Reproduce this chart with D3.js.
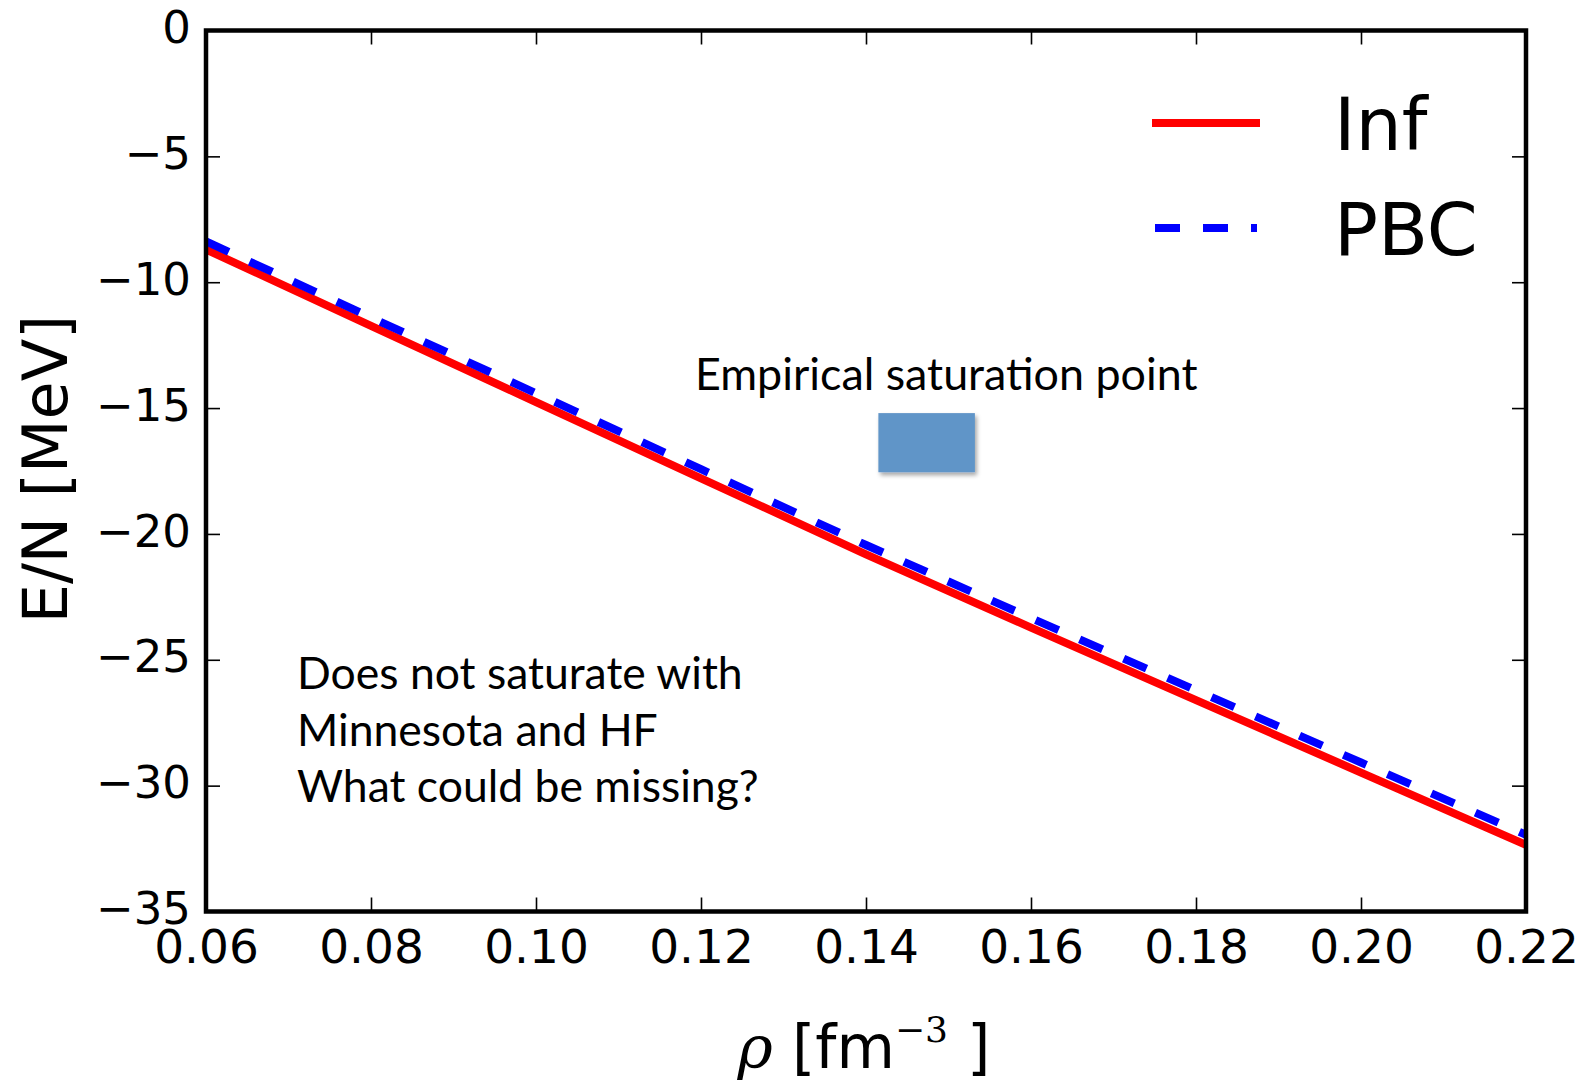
<!DOCTYPE html>
<html>
<head>
<meta charset="utf-8">
<script src="https://cdn.jsdelivr.net/npm/d3@7"></script>
<style>
  html, body { margin: 0; padding: 0; background: #fff; }
  svg { display: block; }
</style>
</head>
<body>
<script>
// Energy per nucleon of nuclear matter vs density (Minnesota potential, HF)
const densities = [0.06, 0.08, 0.10, 0.12, 0.14, 0.16, 0.18, 0.20, 0.22];
const energyInf = [-8.70, -11.73, -14.76, -17.79, -20.81, -23.72, -26.60, -29.48, -32.35];
const energyPBC = [-8.38, -11.40, -14.41, -17.43, -20.44, -23.34, -26.21, -29.08, -31.95];

const xTickValues = [0.06, 0.08, 0.10, 0.12, 0.14, 0.16, 0.18, 0.20, 0.22];
const yTickValues = [0, -5, -10, -15, -20, -25, -30, -35];

const seriesNames = ["Inf", "PBC"];
const seriesColors = ["#ff0000", "#0000ff"];

// Empirical saturation region (density range, energy range)
const saturationRho = [0.1415, 0.1532];
const saturationEnergy = [-15.2, -17.55];
const saturationLabel = "Empirical saturation point";
const noteLines = ["Does not saturate with", "Minnesota and HF", "What could be missing?"];

const W = 1592, H = 1081;
const margin = { left: 206, top: 30.5, right: W - 1526, bottom: H - 911.5 };
const pw = W - margin.left - margin.right;
const ph = H - margin.top - margin.bottom;

const svg = d3.select("body").append("svg")
  .attr("width", W).attr("height", H)
  .attr("viewBox", `0 0 ${W} ${H}`);

const defs = svg.append("defs");
defs.append("clipPath").attr("id", "plot-clip")
  .append("rect").attr("width", pw).attr("height", ph);
const shadow = defs.append("filter").attr("id", "box-shadow")
  .attr("x", "-20%").attr("y", "-20%").attr("width", "150%").attr("height", "160%");
shadow.append("feDropShadow")
  .attr("dx", 2).attr("dy", 3).attr("stdDeviation", 2.2)
  .attr("flood-color", "#000").attr("flood-opacity", 0.35);

const x = d3.scaleLinear().domain([0.06, 0.22]).range([0, pw]);
const y = d3.scaleLinear().domain([-35, 0]).range([ph, 0]);

const g = svg.append("g").attr("transform", `translate(${margin.left},${margin.top})`);

// Saturation box
g.append("rect")
  .attr("x", x(saturationRho[0]))
  .attr("y", y(saturationEnergy[0]))
  .attr("width", x(saturationRho[1]) - x(saturationRho[0]))
  .attr("height", y(saturationEnergy[1]) - y(saturationEnergy[0]))
  .attr("fill", "#6195c8")
  .attr("filter", "url(#box-shadow)");

// Curves
const line = d3.line().x(d => x(d[0])).y(d => y(d[1]));
const curves = g.append("g").attr("clip-path", "url(#plot-clip)");
curves.append("path")
  .datum(densities.map((r, i) => [r, energyInf[i]]))
  .attr("d", line)
  .attr("fill", "none")
  .attr("stroke", seriesColors[0])
  .attr("stroke-width", 8)
  .attr("stroke-linecap", "square");
curves.append("path")
  .datum(densities.map((r, i) => [r, energyPBC[i]]))
  .attr("d", line)
  .attr("fill", "none")
  .attr("stroke", seriesColors[1])
  .attr("stroke-width", 8)
  .attr("stroke-dasharray", "25,23")
  .attr("stroke-linecap", "butt");

// Axes with inward ticks on all four sides
const tickFont = "'DejaVu Sans', sans-serif";
const fmtX = d3.format(".2f");
const fmtY = d3.format("d");

const xAxis = g.append("g").attr("transform", `translate(0,${ph})`)
  .call(d3.axisBottom(x).tickValues(xTickValues).tickFormat(fmtX).tickSize(-14).tickPadding(19));
const yAxis = g.append("g")
  .call(d3.axisLeft(y).tickValues(yTickValues).tickFormat(fmtY).tickSize(-14).tickPadding(15));
g.append("g")
  .call(d3.axisTop(x).tickValues(xTickValues).tickFormat("").tickSize(-14));
g.append("g").attr("transform", `translate(${pw},0)`)
  .call(d3.axisRight(y).tickValues(yTickValues).tickFormat("").tickSize(-14));

g.selectAll(".domain").remove();
g.selectAll(".tick line").attr("stroke", "#000").attr("stroke-width", 1.6);
g.selectAll(".tick text")
  .attr("fill", "#000")
  .style("font-family", tickFont)
  .style("font-size", "45px");
xAxis.selectAll(".tick text").attr("dy", "0.69em").style("font-size", "47px");
yAxis.selectAll(".tick text").attr("dy", "0.27em");

// Frame
g.append("rect")
  .attr("width", pw).attr("height", ph)
  .attr("fill", "none").attr("stroke", "#000").attr("stroke-width", 4.5);

// Axis labels
svg.append("text")
  .attr("transform", `translate(67,${margin.top + ph / 2 - 2}) rotate(-90)`)
  .attr("text-anchor", "middle")
  .style("font-family", tickFont)
  .style("font-size", "62px")
  .text("E/N [MeV]");

const xl = svg.append("text")
  .attr("x", margin.left + pw / 2 - 2)
  .attr("y", 1068)
  .attr("text-anchor", "middle")
  .style("font-family", tickFont)
  .style("font-size", "60px");
xl.append("tspan").style("font-family", "'DejaVu Serif', serif").style("font-style", "italic").text("ρ");
xl.append("tspan").text(" [fm");
xl.append("tspan").attr("dy", -26).style("font-family", "'DejaVu Serif', serif").style("font-size", "36px").text("−3");
xl.append("tspan").attr("dy", 26).text(" ]");

// Legend
const legend = svg.append("g");
const legendRows = [123, 228];
seriesNames.forEach((name, i) => {
  legend.append("line")
    .attr("x1", i === 0 ? 1156 : 1155).attr("x2", i === 0 ? 1256 : 1257)
    .attr("y1", legendRows[i]).attr("y2", legendRows[i])
    .attr("stroke", seriesColors[i])
    .attr("stroke-width", 8)
    .attr("stroke-linecap", i === 0 ? "square" : "butt")
    .attr("stroke-dasharray", i === 0 ? null : "25,23");
  legend.append("text")
    .attr("x", 1334).attr("y", legendRows[i] + 27)
    .style("font-family", tickFont)
    .style("font-size", "73px")
    .text(name);
});

// Annotations
const noteFont = "Lato, 'Open Sans', sans-serif";
svg.append("text")
  .attr("x", 695).attr("y", 390)
  .style("font-family", noteFont)
  .style("font-size", "44.8px")
  .text(saturationLabel);

const note = svg.append("text")
  .style("font-family", noteFont)
  .style("font-size", "44.5px");
noteLines.forEach((t, i) => {
  note.append("tspan").attr("x", 297).attr("y", 689 + i * 56.5).text(t);
});
</script>
</body>
</html>
